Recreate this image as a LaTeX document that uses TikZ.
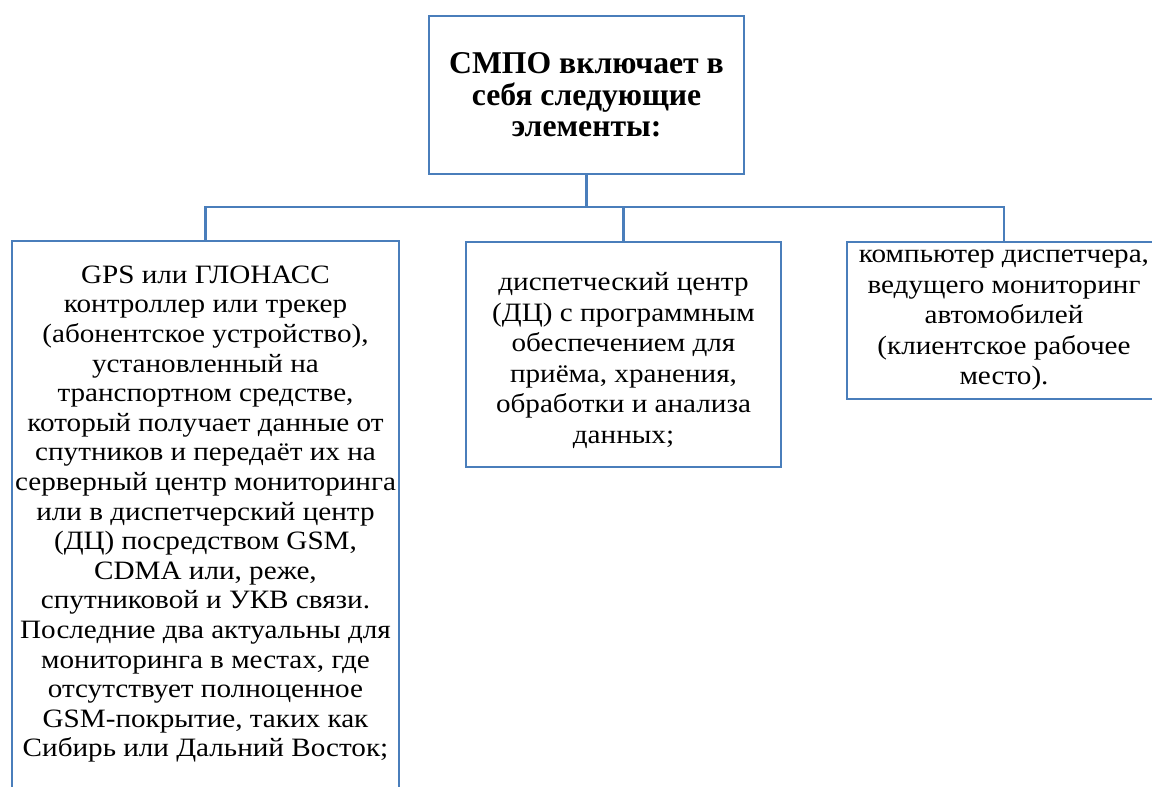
\documentclass[tikz,border=0pt]{standalone}
\usepackage{fontspec}
\setmainfont{Liberation Serif}
\newfontfamily\bodyfont{Liberation Serif}[FakeStretch=1.1]
\definecolor{frameblue}{HTML}{4A7EBB}
\begin{document}
\begin{tikzpicture}[x=1pt,y=-1pt,
  frame/.style={draw=frameblue,line width=2.4pt},
  textbox/.style={align=center,inner sep=0pt,font=\bodyfont\fontsize{26.5}{29.6}\selectfont},
  widebox/.style={align=center,inner sep=0pt,font=\bodyfont\fontsize{26.5}{30.5}\selectfont},
  headbox/.style={frame,align=center,inner sep=0pt,font=\bfseries\fontsize{31.7}{31.6}\selectfont}]
  \clip (0,0) rectangle (1152,787);
  \fill[white] (0,0) rectangle (1152,787);

  % root of the tree
  \node[headbox,minimum width=315pt,minimum height=158pt] (root) at (586.5,95)
    {СМПО включает в\\себя следующие\\элементы:};

  % left branch: the on-board tracker (box runs off the page bottom)
  \node[textbox,anchor=north,minimum width=387pt,inner ysep=24.5pt] (gps) at (205.5,241)
    {GPS или ГЛОНАСС\\контроллер или трекер\\(абонентское устройство),\\установленный на\\транспортном средстве,\\который получает данные от\\спутников и передаёт их на\\серверный центр мониторинга\\или в диспетчерский центр\\(ДЦ) посредством GSM,\\CDMA или, реже,\\спутниковой и УКВ связи.\\Последние два актуальны для\\мониторинга в местах, где\\отсутствует полноценное\\GSM-покрытие, таких как\\Сибирь или Дальний Восток;};
  \draw[frame] (gps.north west) rectangle ++(387,600);

  % middle branch: dispatch centre (strut lowers the text block a little)
  \node[widebox,frame,minimum width=315pt,minimum height=225pt] (dc) at (623.5,354.5)
    {\rule{0pt}{30pt}диспетческий центр\\(ДЦ) с программным\\обеспечением для\\приёма, хранения,\\обработки и анализа\\данных;};

  % right branch: dispatcher workstation
  \node[widebox,frame,minimum width=314pt,minimum height=157pt] (pc) at (1004,320.5)
    {компьютер диспетчера,\\ведущего мониторинг\\автомобилей\\(клиентское рабочее\\место).};

  % connectors via a common bus
  \coordinate (bus) at (586.5,207);
  \draw[frame] (root.south) -- (bus);
  \draw[frame] (bus) -| (gps.north);
  \draw[frame] (bus) -| (dc.north);
  \draw[frame] (bus) -| (pc.north);
\end{tikzpicture}
\end{document}
